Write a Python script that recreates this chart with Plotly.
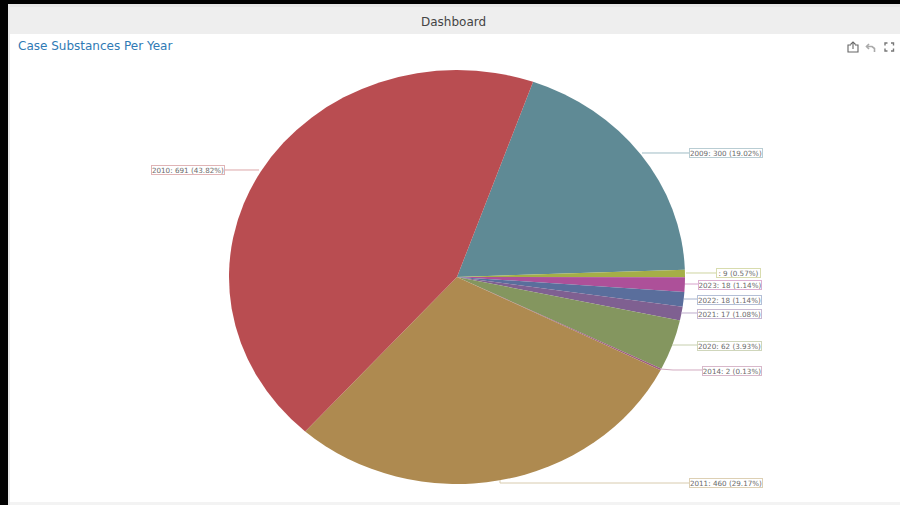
import plotly.graph_objects as go

W, H = 900, 505

years = ["2009", "", "2023", "2022", "2021", "2020", "2014", "2011", "2010"]
counts = [300, 9, 18, 18, 17, 62, 2, 460, 691]
percents = ["19.02", "0.57", "1.14", "1.14", "1.08", "3.93", "0.13", "29.17", "43.82"]
slice_colors = ["#5f8a95", "#a5ae47", "#ad5099", "#5a6e9c", "#7f6091", "#84965f", "#9c5b80", "#ae8a50", "#b94d51"]
border_colors = ["#b9cdd3", "#d8dcae", "#dcb0d2", "#b4bfd6", "#c8b9d2", "#cfd6bb", "#d8b8ca", "#ddd0b4", "#e0b4b6"]
line_colors = ["#9fbcc4", "#ced4a0", "#d6a0ca", "#a5b2cc", "#bdaccb", "#c6cfae", "#d2aac0", "#d8cbae", "#dca6a8"]
label_boxes = [(689, 763, 152.5), (716, 761, 272.5), (698, 762, 284.5), (697, 762, 299.5),
               (697, 762, 313.5), (697, 762, 345.5), (702, 762, 370.5), (689, 763, 482.5), (151, 225, 170)]
leader_paths = [
    [(642, 153), (689, 153)],
    [(686, 273), (716, 273)],
    [(685, 284), (698, 284)],
    [(684, 299), (697, 299)],
    [(681, 313), (697, 313)],
    [(672, 345), (697, 345)],
    [(660, 369), (673, 370), (702, 370)],
    [(500, 480), (500, 483), (689, 483)],
    [(259, 170), (225, 170)],
]

CX, CY, RX, RY = 457, 277, 228, 207


def px(x):
    return x / W


def py(y):
    return 1 - y / H


def path(points, close=False):
    d = "M " + " L ".join(f"{px(x):.5f} {py(y):.5f}" for x, y in points)
    return d + (" Z" if close else "")


def rect(x0, y0, x1, y1, color):
    return dict(type="rect", xref="paper", yref="paper", x0=px(x0), x1=px(x1), y0=py(y0), y1=py(y1),
                fillcolor=color, line_width=0, layer="below")


shapes = [
    rect(8, 4, 900, 505, "#e6e6e6"),
    rect(10, 7, 900, 502, "#ffffff"),
    rect(10, 7, 900, 34, "#eeeeee"),
    rect(10, 502, 900, 505, "#f3f3f3"),
]

for pts, c in zip(leader_paths, line_colors):
    shapes.append(dict(type="path", xref="paper", yref="paper", path=path(pts), line=dict(color=c, width=1)))

# toolbox icons
icons = [
    ([(851, 45), (848, 45), (848, 52), (858, 52), (858, 45), (855, 45)], "#666666", 1.1),
    ([(853, 49), (853, 42)], "#666666", 1.1),
    ([(850.5, 44.5), (853, 42), (855.5, 44.5)], "#666666", 1.1),
    ([(869, 44), (866.5, 46.5), (869, 49)], "#aaaaaa", 1.6),
    ([(867, 46.5), (872, 46.5), (874.5, 48.5), (874.5, 52)], "#aaaaaa", 1.6),
    ([(885, 45.5), (885, 43), (887.5, 43)], "#777777", 1.4),
    ([(891, 43), (893.5, 43), (893.5, 45.5)], "#777777", 1.4),
    ([(885, 48.5), (885, 51), (887.5, 51)], "#777777", 1.4),
    ([(891, 51), (893.5, 51), (893.5, 48.5)], "#777777", 1.4),
]
for pts, c, w in icons:
    shapes.append(dict(type="path", xref="paper", yref="paper", path=path(pts), line=dict(color=c, width=w)))

annotations = [
    dict(text="Dashboard", x=px(453.5), y=py(21.5), xref="paper", yref="paper", showarrow=False,
         xanchor="center", yanchor="middle", font=dict(family="DejaVu Sans", size=12, color="#444444")),
    dict(text="Case Substances Per Year", x=px(15.5), y=py(46.5), xref="paper", yref="paper", showarrow=False,
         xanchor="left", yanchor="middle", font=dict(family="DejaVu Sans", size=12, color="#2f7ab5")),
]
for yr, cnt, pct, box, bc in zip(years, counts, percents, label_boxes, border_colors):
    annotations.append(dict(
        text=f"{yr}: {cnt} ({pct}%)", x=px((box[0] + box[1]) / 2), y=py(box[2]),
        xref="paper", yref="paper", showarrow=False, xanchor="center", yanchor="middle",
        width=box[1] - box[0] - 2, height=8, align="center",
        bordercolor=bc, borderwidth=1, borderpad=0, bgcolor="#ffffff",
        font=dict(family="DejaVu Sans", size=7.2, color="#6b6b6b"),
    ))

fig = go.Figure(go.Pie(
    labels=years,
    values=counts,
    sort=False,
    direction="clockwise",
    rotation=19.5,
    textinfo="none",
    marker=dict(colors=slice_colors, line=dict(width=0)),
    domain=dict(x=[px(CX - RX), px(CX + RX)], y=[py(CY + RX), py(CY - RX)]),
    showlegend=False,
))
fig.update_layout(
    width=W, height=H,
    margin=dict(l=0, r=0, t=0, b=0),
    paper_bgcolor="#000000",
    shapes=shapes,
    annotations=annotations,
)

# The reference pie is stretched wider than tall; plotly only draws round pies.
post = f"""
document.body.style.margin='0';
document.documentElement.style.overflow='hidden';
var pl=document.querySelector('.pielayer');
if(pl){{pl.setAttribute('transform','translate(0,{CY}) scale(1,{RY / RX:.4f}) translate(0,{-CY})');}}
"""
fig.write_html("out.html", config=dict(displayModeBar=False), post_script=post)
